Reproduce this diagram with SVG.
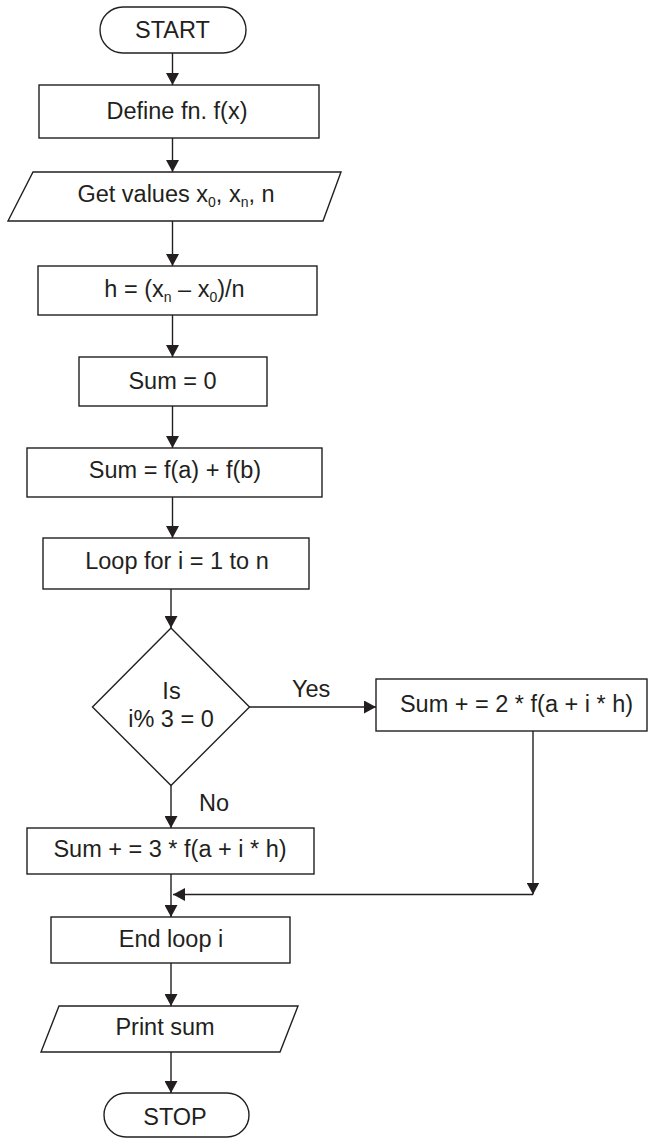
<svg xmlns="http://www.w3.org/2000/svg" width="649" height="1138" viewBox="0 0 649 1138">
<defs>
<style>
.shape{fill:#fff;stroke:#231f20;stroke-width:1.4}
.lbl{font-family:"Liberation Sans",Arial,sans-serif;font-size:23.5px;fill:#231f20;text-anchor:middle}
.lbs{font-family:"Liberation Sans",Arial,sans-serif;font-size:23.5px;fill:#231f20;text-anchor:start}
.sub{font-size:14px}
.conn{fill:none;stroke:#231f20;stroke-width:1.4}
</style>
<marker id="arr" viewBox="0 0 12 13" refX="12" refY="6.5" markerWidth="12" markerHeight="13" markerUnits="userSpaceOnUse" orient="auto">
<path d="M0,0 L12,6.5 L0,13 z" fill="#231f20"/>
</marker>
</defs>
<rect width="649" height="1138" fill="#fff"/>

<g id="connectors">
<line class="conn" x1="172.5" y1="53" x2="172.5" y2="85" marker-end="url(#arr)"/>
<line class="conn" x1="172.5" y1="138" x2="172.5" y2="172" marker-end="url(#arr)"/>
<line class="conn" x1="172.5" y1="221" x2="172.5" y2="266" marker-end="url(#arr)"/>
<line class="conn" x1="172.5" y1="315" x2="172.5" y2="357" marker-end="url(#arr)"/>
<line class="conn" x1="172.5" y1="406" x2="172.5" y2="448" marker-end="url(#arr)"/>
<line class="conn" x1="172.5" y1="497" x2="172.5" y2="538" marker-end="url(#arr)"/>
<line class="conn" x1="171" y1="589" x2="171" y2="628" marker-end="url(#arr)"/>
<line class="conn" x1="249" y1="707" x2="376" y2="707" marker-end="url(#arr)"/>
<line class="conn" x1="171" y1="785" x2="171" y2="828" marker-end="url(#arr)"/>
<line class="conn" x1="533" y1="731" x2="533" y2="894.5" marker-end="url(#arr)"/>
<line class="conn" x1="533" y1="894.5" x2="173" y2="894.5" marker-end="url(#arr)"/>
<line class="conn" x1="171" y1="874" x2="171" y2="917" marker-end="url(#arr)"/>
<line class="conn" x1="171" y1="963" x2="171" y2="1006" marker-end="url(#arr)"/>
<line class="conn" x1="171" y1="1052" x2="171" y2="1093" marker-end="url(#arr)"/>
<text class="lbs" x="292" y="697">Yes</text>
<text class="lbs" x="199" y="811">No</text>
</g>

<g id="start">
<rect class="shape" x="100" y="7" width="146" height="46" rx="23" ry="23"/>
<text class="lbl" x="172.5" y="38">START</text>
</g>

<g id="define">
<rect class="shape" x="39" y="85" width="280" height="53"/>
<text class="lbl" x="177" y="119">Define fn. f(x)</text>
</g>

<g id="getvalues">
<polygon class="shape" points="33,172 341,172 323,221 8,221"/>
<text class="lbl" x="176" y="202">Get values x<tspan class="sub" dy="5">0</tspan><tspan dy="-5">, x</tspan><tspan class="sub" dy="5">n</tspan><tspan dy="-5">, n</tspan></text>
</g>

<g id="h">
<rect class="shape" x="38" y="266" width="279" height="49"/>
<text class="lbl" x="174.5" y="297">h = (x<tspan class="sub" dy="5">n</tspan><tspan dy="-5"> – x</tspan><tspan class="sub" dy="5">0</tspan><tspan dy="-5">)/n</tspan></text>
</g>

<g id="sum0">
<rect class="shape" x="79" y="357" width="188" height="49"/>
<text class="lbl" x="172.5" y="389">Sum = 0</text>
</g>

<g id="sumfab">
<rect class="shape" x="27" y="448" width="295" height="49"/>
<text class="lbl" x="175" y="478">Sum = f(a) + f(b)</text>
</g>

<g id="loop">
<rect class="shape" x="43" y="538" width="266" height="51"/>
<text class="lbl" x="177" y="569">Loop for i = 1 to n</text>
</g>

<g id="decision">
<polygon class="shape" points="171,628 249.5,707 171,785.5 92.5,707"/>
<text class="lbl" x="171.5" y="699">Is</text>
<text class="lbl" x="171" y="727">i% 3 = 0</text>
</g>

<g id="sum2">
<rect class="shape" x="376" y="679" width="271" height="52"/>
<text class="lbl" x="516.5" y="712">Sum + = 2 * f(a + i * h)</text>
</g>

<g id="sum3">
<rect class="shape" x="27" y="828" width="287" height="46"/>
<text class="lbl" x="170" y="857">Sum + = 3 * f(a + i * h)</text>
</g>

<g id="endloop">
<rect class="shape" x="51" y="917" width="239" height="46"/>
<text class="lbl" x="171" y="947">End loop i</text>
</g>

<g id="print">
<polygon class="shape" points="59,1006 298,1006 280,1052 41,1052"/>
<text class="lbl" x="165" y="1035">Print sum</text>
</g>

<g id="stop">
<rect class="shape" x="104" y="1093" width="145" height="44" rx="22" ry="22"/>
<text class="lbl" x="175" y="1125">STOP</text>
</g>
</svg>
